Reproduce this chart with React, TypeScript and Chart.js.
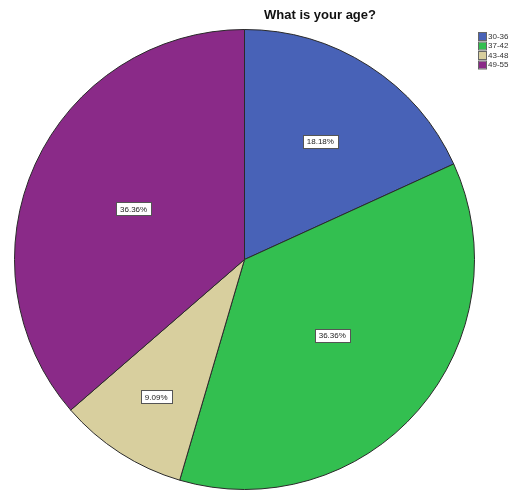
import React, { useEffect, useRef } from "react";
import { Chart, registerables } from "chart.js";

Chart.register(...registerables);

const titleText = "What is your age?";
const categories = ["30-36", "37-42", "43-48", "49-55"];
const counts = [2, 4, 1, 4];
const percentLabels = ["18.18%", "36.36%", "9.09%", "36.36%"];
const colors = ["#4862b7", "#33bf50", "#d8cf9e", "#8a2a88"];
const labelRadiusFrac = [0.61, 0.505, 0.71, 0.53];

const overlayPlugin = {
  id: "overlay",
  afterDatasetsDraw(chart: any) {
    const ctx = chart.ctx as CanvasRenderingContext2D;
    const meta = chart.getDatasetMeta(0);
    ctx.save();
    ctx.font = "8px 'Liberation Sans', Arial, sans-serif";
    ctx.textAlign = "center";
    ctx.textBaseline = "middle";
    meta.data.forEach((arc: any, i: number) => {
      const { x, y, startAngle, endAngle, outerRadius } = arc.getProps(
        ["x", "y", "startAngle", "endAngle", "outerRadius"],
        true
      );
      const mid = (startAngle + endAngle) / 2;
      const r = outerRadius * labelRadiusFrac[i];
      const cx = x + Math.cos(mid) * r;
      const cy = y + Math.sin(mid) * r;
      const txt = percentLabels[i];
      const w = ctx.measureText(txt).width + 8;
      const h = 13;
      ctx.fillStyle = "#ffffff";
      ctx.fillRect(Math.round(cx - w / 2) + 0.5, Math.round(cy - h / 2) + 0.5, Math.round(w), h);
      ctx.strokeStyle = "#555555";
      ctx.lineWidth = 1;
      ctx.strokeRect(Math.round(cx - w / 2) + 0.5, Math.round(cy - h / 2) + 0.5, Math.round(w), h);
      ctx.fillStyle = "#222222";
      ctx.fillText(txt, cx, cy + 0.5);
    });
    // title
    ctx.font = "bold 13px 'Liberation Sans', Arial, sans-serif";
    ctx.fillStyle = "#111111";
    ctx.textAlign = "center";
    ctx.fillText(titleText, 320, 15);
    // legend
    ctx.font = "8px 'Liberation Sans', Arial, sans-serif";
    ctx.textAlign = "left";
    categories.forEach((c, i) => {
      const ly = 33 + i * 9.5;
      ctx.fillStyle = colors[i];
      ctx.fillRect(479, ly, 7, 7);
      ctx.strokeStyle = "#666666";
      ctx.strokeRect(478.5, ly - 0.5, 8, 8);
      ctx.fillStyle = "#333333";
      ctx.fillText(c, 488, ly + 3.5);
    });
    ctx.restore();
  },
};

export default function App() {
  const ref = useRef<HTMLCanvasElement>(null);
  useEffect(() => {
    if (!ref.current) return;
    const chart = new Chart(ref.current, {
      type: "pie",
      data: {
        labels: categories,
        datasets: [
          {
            data: counts,
            backgroundColor: colors,
            borderColor: "#2a2a2a",
            borderWidth: 1,
          },
        ],
      },
      options: {
        responsive: false,
        animation: false,
        layout: { padding: { left: 14, right: 46, top: 29, bottom: 3 } },
        plugins: {
          legend: { display: false },
          title: { display: false },
          tooltip: { enabled: false },
        },
      },
      plugins: [overlayPlugin],
    });
    return () => chart.destroy();
  }, []);
  return (
    <div style={{ position: "absolute", left: 0, top: 0, width: 521, height: 493, background: "#fff" }}>
      <canvas ref={ref} width={521} height={493} />
    </div>
  );
}
